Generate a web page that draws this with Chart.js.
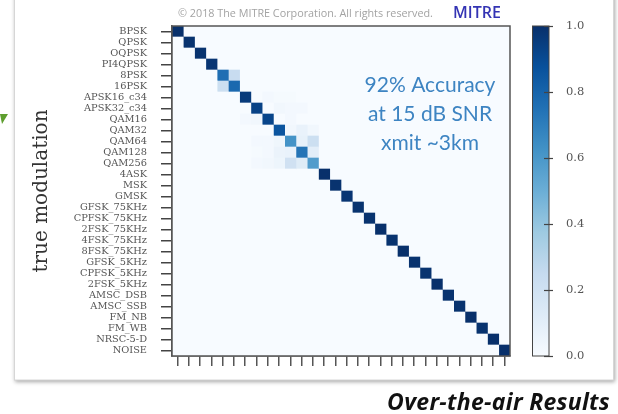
<!DOCTYPE html>
<html>
<head>
<meta charset="utf-8">
<script src="https://cdn.jsdelivr.net/npm/chart.js@4.4.1/dist/chart.umd.min.js"></script>
<style>
  html, body { margin: 0; padding: 0; background: #fff; }
  #wrap { width: 618px; height: 414px; }
</style>
</head>
<body>
<div id="wrap"><canvas id="myChart" width="618" height="414"></canvas></div>
<script>
// class names, top to bottom (same order on the predicted axis)
var modulations = [
  'BPSK', 'QPSK', 'OQPSK', 'PI4QPSK', '8PSK', '16PSK', 'APSK16_c34', 'APSK32_c34',
  'QAM16', 'QAM32', 'QAM64', 'QAM128', 'QAM256', '4ASK', 'MSK', 'GMSK',
  'GFSK_75KHz', 'CPFSK_75KHz', '2FSK_75KHz', '4FSK_75KHz', '8FSK_75KHz',
  'GFSK_5KHz', 'CPFSK_5KHz', '2FSK_5KHz', 'AMSC_DSB', 'AMSC_SSB',
  'FM_NB', 'FM_WB', 'NRSC-5-D', 'NOISE'
];

// fraction classified correctly, per true class
var diagonal = [
  1.0, 0.99, 0.99, 0.98, 0.76, 0.78, 0.96, 0.93,
  0.92, 0.86, 0.62, 0.74, 0.58, 1.0, 0.99, 0.98,
  0.99, 0.99, 1.0, 0.99, 1.0,
  0.99, 0.99, 1.0, 0.99, 0.99,
  1.0, 0.99, 1.0, 1.0
];

// [true index, predicted index, fraction] for the off-diagonal cells
var confusions = [
  [4, 5, 0.24], [5, 4, 0.22],
  [6, 8, 0.02], [6, 9, 0.01], [6, 10, 0.01],
  [7, 9, 0.03], [7, 10, 0.02], [7, 11, 0.02],
  [8, 6, 0.02], [8, 7, 0.03], [8, 10, 0.02],
  [9, 11, 0.07], [9, 10, 0.03], [9, 12, 0.03],
  [10, 7, 0.02], [10, 8, 0.02], [10, 9, 0.04], [10, 11, 0.08], [10, 12, 0.22],
  [11, 7, 0.01], [11, 8, 0.02], [11, 9, 0.06], [11, 10, 0.07], [11, 12, 0.10],
  [12, 7, 0.02], [12, 8, 0.03], [12, 9, 0.05], [12, 10, 0.20], [12, 11, 0.12]
];

var colorbarTicks = [0, 0.2, 0.4, 0.6, 0.8, 1.0];
var noteLines = ['92% Accuracy', 'at 15 dB SNR', 'xmit ~3km'];

// matplotlib "Blues"
var blues = ['#f7fbff', '#deebf7', '#c6dbef', '#9ecae1', '#6baed6', '#4292c6', '#2171b5', '#08519c', '#08306b'];

function hexRgb(h) {
  return [parseInt(h.substr(1, 2), 16), parseInt(h.substr(3, 2), 16), parseInt(h.substr(5, 2), 16)];
}

function blue(v) {
  v = Math.max(0, Math.min(1, v));
  var p = v * 8;
  var i = Math.min(7, Math.floor(p));
  var t = p - i;
  var a = hexRgb(blues[i]), b = hexRgb(blues[i + 1]);
  return 'rgb(' + Math.round(a[0] + (b[0] - a[0]) * t) + ',' +
    Math.round(a[1] + (b[1] - a[1]) * t) + ',' +
    Math.round(a[2] + (b[2] - a[2]) * t) + ')';
}

var matrix = modulations.map(function (m, r) {
  return modulations.map(function (m2, c) { return r === c ? diagonal[r] : 0; });
});
confusions.forEach(function (d) { matrix[d[0]][d[1]] = d[2]; });

// one stacked dataset per predicted class: each cell is one unit wide
var datasets = modulations.map(function (name, c) {
  return {
    label: name,
    data: modulations.map(function () { return 1; }),
    backgroundColor: modulations.map(function (n, r) { return blue(matrix[r][c]); }),
    borderWidth: 0,
    barPercentage: 1,
    categoryPercentage: 1
  };
});

// keep the plot box where it is in the picture
function noPad(s) {
  s.paddingTop = 0; s.paddingBottom = 0; s.paddingLeft = 0; s.paddingRight = 0;
}

var decor = {
  id: 'decor',
  beforeDraw: function (chart) {
    var ctx = chart.ctx;
    ctx.save();
    ctx.fillStyle = '#fff';
    ctx.fillRect(0, 0, chart.width, chart.height);
    // slide frame
    ctx.shadowColor = 'rgba(0,0,0,0.35)';
    ctx.shadowBlur = 4;
    ctx.shadowOffsetX = 1;
    ctx.shadowOffsetY = 2;
    ctx.fillStyle = '#fff';
    ctx.fillRect(14, -10, 600, 390);
    ctx.shadowColor = 'transparent';
    ctx.strokeStyle = '#d6d6d6';
    ctx.lineWidth = 1;
    ctx.strokeRect(14.5, -10, 599, 390);
    // green arrow tip
    ctx.fillStyle = '#5e9e2e';
    ctx.beginPath();
    ctx.moveTo(0, 114);
    ctx.lineTo(8, 114);
    ctx.lineTo(2, 124);
    ctx.closePath();
    ctx.fill();
    ctx.restore();
  },
  beforeDatasetsDraw: function (chart) {
    var a = chart.chartArea, ctx = chart.ctx;
    ctx.save();
    ctx.fillStyle = blue(0);
    ctx.fillRect(a.left, a.top, a.right - a.left, a.bottom - a.top);
    ctx.restore();
  },
  afterDraw: function (chart) {
    var a = chart.chartArea, ctx = chart.ctx;
    ctx.save();
    ctx.strokeStyle = '#555';
    ctx.lineWidth = 1.5;
    ctx.strokeRect(a.left, a.top, a.right - a.left, a.bottom - a.top);

    // colour bar along the 'cb' scale
    var cb = chart.scales.cb;
    var yTop = cb.getPixelForValue(1), yBot = cb.getPixelForValue(0);
    var grad = ctx.createLinearGradient(0, yBot, 0, yTop);
    blues.forEach(function (c, i) { grad.addColorStop(i / 8, c); });
    ctx.fillStyle = grad;
    ctx.fillRect(532, yTop, 17, yBot - yTop);
    ctx.strokeStyle = '#444';
    ctx.lineWidth = 1;
    ctx.strokeRect(532.5, yTop, 16.5, yBot - yTop);
    ctx.lineWidth = 1.2;
    colorbarTicks.forEach(function (v) {
      var y = Math.round(cb.getPixelForValue(v)) + 0.5;
      ctx.beginPath();
      ctx.moveTo(544, y);
      ctx.lineTo(553, y);
      ctx.stroke();
    });

    // slide texts
    ctx.textBaseline = 'alphabetic';
    ctx.textAlign = 'left';
    ctx.fillStyle = '#a3a3a3';
    ctx.font = '10.8px "Open Sans"';
    ctx.fillText('\u00a9 2018 The MITRE Corporation. All rights reserved.', 178, 17);
    ctx.fillStyle = '#3434b4';
    ctx.font = '600 16px "Open Sans"';
    ctx.fillText('MITRE', 453, 18);

    ctx.textAlign = 'center';
    ctx.fillStyle = '#3d84c2';
    ctx.font = '21px Lato';
    noteLines.forEach(function (t, i) {
      ctx.fillText(t, 430, 92 + i * 29);
    });

    ctx.textAlign = 'right';
    ctx.fillStyle = '#111';
    ctx.font = 'italic bold 23px "Open Sans"';
    ctx.letterSpacing = '0.3px';
    ctx.fillText('Over-the-air Results', 610, 410);
    ctx.restore();
  }
};

new Chart(document.getElementById('myChart'), {
  type: 'bar',
  data: { labels: modulations, datasets: datasets },
  plugins: [decor],
  options: {
    indexAxis: 'y',
    responsive: false,
    animation: false,
    events: [],
    layout: { padding: { top: 26, left: 0, right: 0, bottom: 0 } },
    plugins: { legend: { display: false }, tooltip: { enabled: false } },
    scales: {
      x: {
        type: 'linear',
        stacked: true,
        min: 0,
        max: modulations.length,
        afterBuildTicks: function (s) {
          s.ticks = modulations.map(function (m, i) { return { value: i + 0.5 }; });
        },
        afterFit: function (s) { s.height = 58; noPad(s); },
        ticks: { display: false },
        grid: { drawOnChartArea: false, drawTicks: true, tickLength: 10, color: '#555', lineWidth: 1.5 },
        border: { display: true, color: '#555', width: 1.5 }
      },
      y: {
        type: 'category',
        stacked: true,
        offset: true,
        afterFit: function (s) { s.width = 172; noPad(s); },
        ticks: {
          autoSkip: false,
          padding: 14,
          color: '#555',
          font: { family: '"DejaVu Serif"', size: 9.8 }
        },
        grid: { offset: false, drawOnChartArea: false, drawTicks: true, tickLength: 11, color: '#444', lineWidth: 1.5 },
        border: { display: true, color: '#555', width: 1.5 },
        title: {
          display: true,
          text: 'true modulation',
          color: '#333',
          font: { family: '"DejaVu Serif"', size: 20 },
          padding: { top: 30, bottom: 0 }
        }
      },
      cb: {
        type: 'linear',
        position: 'right',
        offset: false,
        min: 0,
        max: 1,
        afterBuildTicks: function (s) {
          s.ticks = colorbarTicks.map(function (v) { return { value: v }; });
        },
        afterFit: function (s) { s.width = 108; noPad(s); },
        ticks: {
          padding: 5,
          color: '#555',
          font: { family: '"DejaVu Serif"', size: 11.5 },
          callback: function (v) { return v.toFixed(1); }
        },
        grid: { offset: false, drawOnChartArea: false, drawTicks: true, tickLength: 51, color: 'rgba(0,0,0,0)' },
        border: { display: false }
      }
    }
  }
});
</script>
</body>
</html>
